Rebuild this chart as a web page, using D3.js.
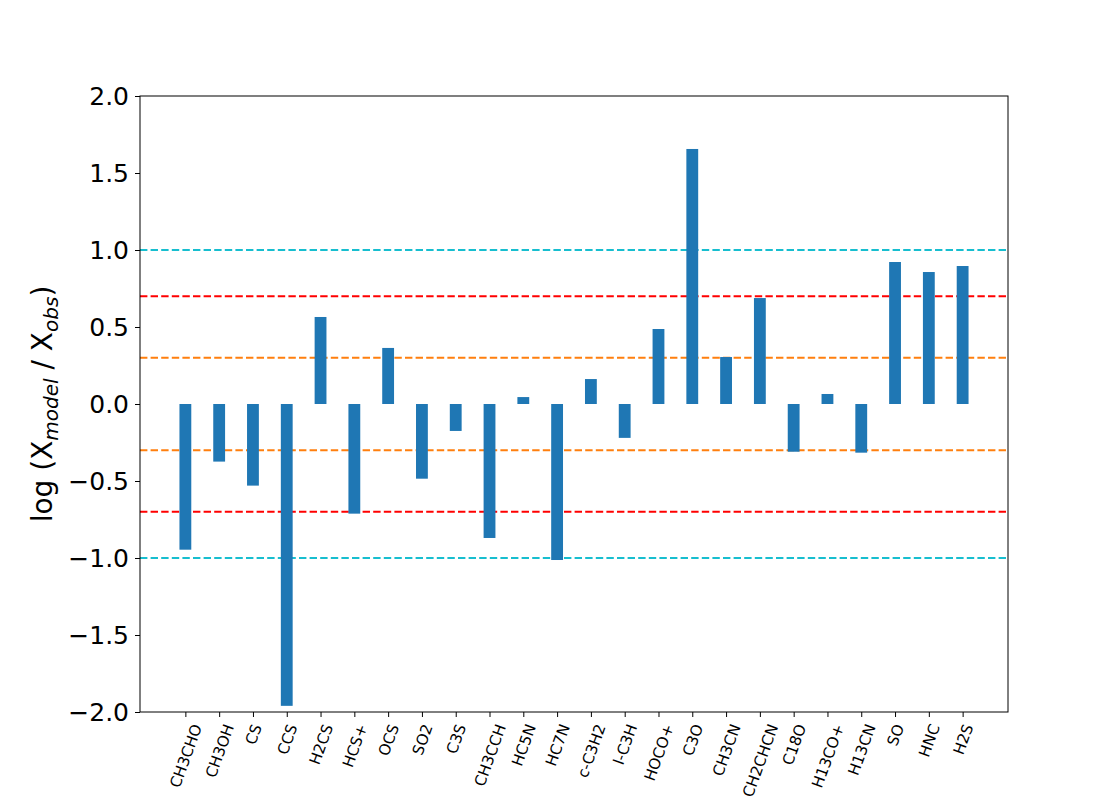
<!DOCTYPE html>
<html>
<head>
<meta charset="utf-8">
<script src="https://cdn.jsdelivr.net/npm/d3@7"></script>
<style>
  body { margin: 0; background: #fff; }
  svg, svg text { font-family: "DejaVu Sans", sans-serif; }
</style>
</head>
<body>
<div id="chart"></div>
<script>
const species = ["CH3CHO", "CH3OH", "CS", "CCS", "H2CS", "HCS+", "OCS", "SO2", "C3S", "CH3CCH",
  "HC5N", "HC7N", "c-C3H2", "l-C3H", "HOCO+", "C3O", "CH3CN", "CH2CHCN", "C18O", "H13CO+",
  "H13CN", "SO", "HNC", "H2S"]
const logRatio = [-0.946, -0.374, -0.530, -1.96, 0.565, -0.712, 0.364, -0.485, -0.175, -0.87,
  0.045, -1.013, 0.162, -0.22, 0.487, 1.656, 0.305, 0.688, -0.31, 0.065,
  -0.316, 0.922, 0.857, 0.896]
const yTicks = [-2.0, -1.5, -1.0, -0.5, 0.0, 0.5, 1.0, 1.5, 2.0]
const refLines = [
  { value: 1.0, color: "#17becf" },
  { value: -1.0, color: "#17becf" },
  { value: 0.7, color: "#ff0000" },
  { value: -0.7, color: "#ff0000" },
  { value: 0.3, color: "#ff7f0e" },
  { value: -0.3, color: "#ff7f0e" }
]

const W = 1120, H = 800
const MARGIN = { LEFT: 140, RIGHT: 112, TOP: 96, BOTTOM: 88 }
const WIDTH = W - MARGIN.LEFT - MARGIN.RIGHT
const HEIGHT = H - MARGIN.TOP - MARGIN.BOTTOM
const FONT = "DejaVu Sans, sans-serif"

const svg = d3.select("#chart").append("svg")
  .attr("width", W)
  .attr("height", H)

const g = svg.append("g")
  .attr("transform", `translate(${MARGIN.LEFT}, ${MARGIN.TOP})`)

// matplotlib-like x limits: bar width 0.35, 5% margins
const barW = 0.35
const lo = -barW / 2, hi = species.length - 1 + barW / 2
const pad = (hi - lo) * 0.05
const x = d3.scaleLinear().domain([lo - pad, hi + pad]).range([0, WIDTH])
const y = d3.scaleLinear().domain([-2, 2]).range([HEIGHT, 0])

// reference lines
g.selectAll(".ref")
  .data(refLines)
  .enter().append("line")
    .attr("class", "ref")
    .attr("x1", 0)
    .attr("x2", WIDTH)
    .attr("y1", d => y(d.value))
    .attr("y2", d => y(d.value))
    .attr("stroke", d => d.color)
    .attr("stroke-width", 2)
    .attr("stroke-dasharray", "7.4,3.2")

// bars
g.selectAll(".bar")
  .data(logRatio)
  .enter().append("rect")
    .attr("class", "bar")
    .attr("x", (d, i) => x(i - barW / 2))
    .attr("width", x(barW) - x(0))
    .attr("y", d => y(Math.max(0, d)))
    .attr("height", d => Math.abs(y(d) - y(0)))
    .attr("fill", "#1f77b4")

// axes
const yAxisCall = d3.axisLeft(y)
  .tickValues(yTicks)
  .tickFormat(d => d3.format(".1f")(d).replace("-", "\u2212"))
  .tickSize(5)
  .tickPadding(6)
const yAxis = g.append("g").call(yAxisCall).attr("font-family", FONT)
yAxis.select(".domain").remove()
yAxis.selectAll("text")
  .attr("font-size", "25px")
  .attr("fill", "#000")

const xAxisCall = d3.axisBottom(x)
  .tickValues(d3.range(species.length))
  .tickFormat(i => species[i])
  .tickSize(5)
const xAxis = g.append("g")
  .attr("transform", `translate(0, ${HEIGHT})`)
  .call(xAxisCall)
  .attr("font-family", FONT)
xAxis.select(".domain").remove()

// rotated labels centred on the tick by their rotated bounding box (matplotlib style)
const xFont = 15.3
const ang = 70 * Math.PI / 180
xAxis.selectAll("text")
  .attr("font-size", xFont + "px")
  .attr("fill", "#000")
  .style("text-anchor", "middle")
  .attr("y", 0)
  .attr("dy", "0.35em")
  .attr("transform", function () {
    const w = this.getComputedTextLength()
    const bh = w * Math.sin(ang) + xFont * 1.16 * Math.cos(ang)
    return `translate(0, ${9.7 + bh / 2}) rotate(-70)`
  })

g.selectAll(".tick line").attr("stroke", "#000").attr("stroke-width", 1)

// frame
g.append("rect")
  .attr("width", WIDTH)
  .attr("height", HEIGHT)
  .attr("fill", "none")
  .attr("stroke", "#000")
  .attr("stroke-width", 1)

// y axis label
const yLabel = g.append("text")
  .attr("transform", "rotate(-90)")
  .attr("x", -HEIGHT / 2)
  .attr("y", -88)
  .attr("text-anchor", "middle")
  .attr("font-family", FONT)
  .attr("font-size", "28px")
  .attr("fill", "#000")
yLabel.append("tspan").text("log (X")
yLabel.append("tspan").attr("font-size", "20px").attr("font-style", "italic").attr("dy", 6).text("model")
yLabel.append("tspan").attr("dy", -6).text(" / X")
yLabel.append("tspan").attr("font-size", "20px").attr("font-style", "italic").attr("dy", 6).text("obs")
yLabel.append("tspan").attr("dy", -6).text(")")
</script>
</body>
</html>
